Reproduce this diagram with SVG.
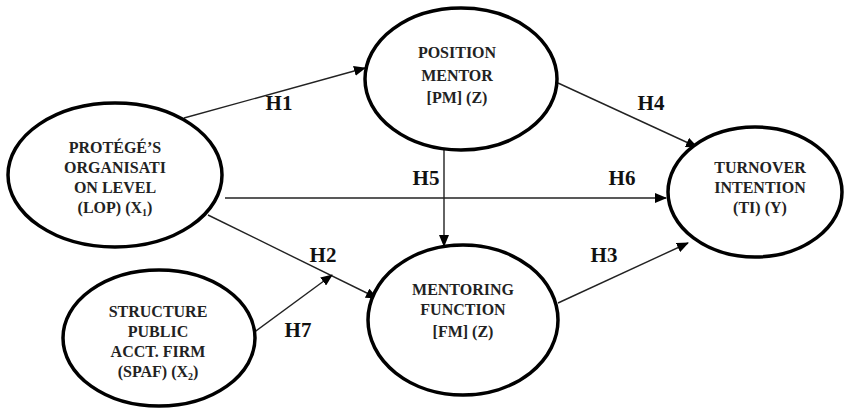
<svg xmlns="http://www.w3.org/2000/svg" width="844" height="410" viewBox="0 0 844 410">
<style>
.node{fill:#fff;stroke:#000;stroke-width:3.5}
.t{font-family:"Liberation Serif","Times New Roman",serif;font-weight:bold;font-size:16px;fill:#222;text-anchor:middle}
.h{font-family:"Liberation Serif","Times New Roman",serif;font-weight:bold;font-size:21px;fill:#111;text-anchor:middle}
.c{stroke:#222;stroke-width:1.4;fill:none;marker-end:url(#arr)}
.sub{font-size:10px}
</style>
<defs>
<marker id="arr" markerWidth="12" markerHeight="10" refX="11" refY="5" orient="auto" markerUnits="userSpaceOnUse">
<path d="M0,0 L12,5 L0,10 Z" fill="#000"/>
</marker>
</defs>
<rect width="844" height="410" fill="#fff"/>
<g id="connectors">
<line class="c" x1="184" y1="118" x2="365" y2="68"/>
<line class="c" x1="558" y1="83" x2="697" y2="147"/>
<line class="c" x1="444" y1="150" x2="444" y2="246"/>
<line class="c" x1="225" y1="198" x2="666" y2="198"/>
<line class="c" x1="208" y1="215" x2="377" y2="298"/>
<line class="c" x1="253" y1="333" x2="332" y2="275"/>
<line class="c" x1="558" y1="303" x2="688" y2="243"/>
</g>
<g id="labels">
<text class="h" x="279" y="110">H1</text>
<text class="h" x="651" y="110">H4</text>
<text class="h" x="426" y="185">H5</text>
<text class="h" x="622" y="185">H6</text>
<text class="h" x="323" y="262">H2</text>
<text class="h" x="604" y="262">H3</text>
<text class="h" x="298" y="337">H7</text>
</g>
<g id="lop">
<ellipse class="node" cx="115" cy="175" rx="107" ry="72"/>
<text class="t" x="115" y="153">PROTÉGÉ’S</text>
<text class="t" x="115" y="173">ORGANISATI</text>
<text class="t" x="115" y="193">ON LEVEL</text>
<text class="t" x="115" y="213">(LOP) (X<tspan class="sub" dy="3">1</tspan><tspan dy="-3">)</tspan></text>
</g>
<g id="pm">
<ellipse class="node" cx="461" cy="79" rx="96" ry="71"/>
<text class="t" x="457" y="58">POSITION</text>
<text class="t" x="457" y="81">MENTOR</text>
<text class="t" x="457" y="103">[PM] (Z)</text>
</g>
<g id="ti">
<ellipse class="node" cx="755" cy="192" rx="87" ry="65"/>
<text class="t" x="760" y="173">TURNOVER</text>
<text class="t" x="760" y="193">INTENTION</text>
<text class="t" x="760" y="213">(TI) (Y)</text>
</g>
<g id="fm">
<ellipse class="node" cx="463" cy="320" rx="95" ry="75"/>
<text class="t" x="463" y="295">MENTORING</text>
<text class="t" x="463" y="315">FUNCTION</text>
<text class="t" x="463" y="337">[FM] (Z)</text>
</g>
<g id="spaf">
<ellipse class="node" cx="159" cy="338" rx="96" ry="68"/>
<text class="t" x="158" y="317">STRUCTURE</text>
<text class="t" x="158" y="337">PUBLIC</text>
<text class="t" x="158" y="357">ACCT. FIRM</text>
<text class="t" x="158" y="377">(SPAF) (X<tspan class="sub" dy="3">2</tspan><tspan dy="-3">)</tspan></text>
</g>
</svg>
